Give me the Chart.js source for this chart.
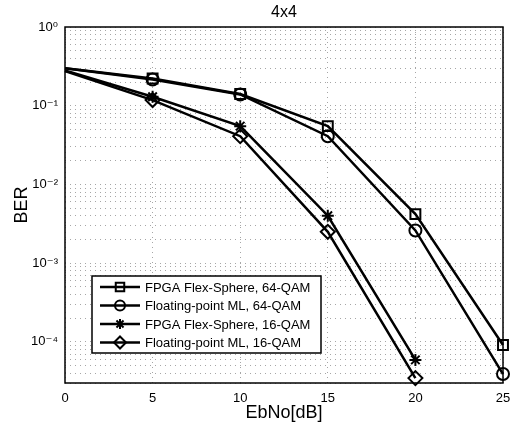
<!DOCTYPE html>
<html>
<head>
<meta charset="utf-8">
<script src="https://cdn.jsdelivr.net/npm/chart.js@4"></script>
<style>
  html, body { margin: 0; padding: 0; background: #fff; }
  #wrap { width: 514px; height: 428px; }
</style>
</head>
<body>
<div id="wrap"><canvas id="myChart" width="514" height="428"></canvas></div>
<script>
// valores
const ebno = [0, 5, 10, 15, 20, 25];
const flex64 = [0.30, 0.222, 0.141, 0.055, 0.0042, 0.000091];
const ml64 = [0.30, 0.215, 0.139, 0.041, 0.0026, 0.000039];
const flex16 = [0.28, 0.130, 0.055, 0.0040, 0.000059, null];
const ml16 = [0.275, 0.118, 0.041, 0.0025, 0.0000346, null];
const seriesNames = [
  'FPGA Flex-Sphere, 64-QAM',
  'Floating-point ML, 64-QAM',
  'FPGA Flex-Sphere, 16-QAM',
  'Floating-point ML, 16-QAM'
];
const xTickValues = [0, 5, 10, 15, 20, 25];
const yDecades = [-4, -3, -2, -1, 0];
const yTickLabels = ['10\u207B\u2074', '10\u207B\u00B3', '10\u207B\u00B2', '10\u207B\u00B9', '10\u2070'];
const chartTitle = '4x4';

const FONT = '"Liberation Sans", Arial, "DejaVu Sans", sans-serif';
const markers = ['rect', 'circle', 'star', 'rectRot'];
const markerSizes = [7, 6, 6, 7];

function toPoints(values) {
  return ebno.map((x, i) => ({ x: x, y: values[i] }));
}

function makeDataset(label, values, k) {
  return {
    label: label,
    data: toPoints(values),
    borderColor: '#000',
    borderWidth: 2.5,
    pointStyle: markers[k],
    pointRadius: values.map((v, i) => (i === 0 ? 0 : markerSizes[k])),
    pointBorderWidth: 2,
    pointBorderColor: '#000',
    pointBackgroundColor: 'rgba(0,0,0,0)',
    tension: 0,
    clip: false,
    spanGaps: false
  };
}

// marcador para la leyenda
function drawMarker(ctx, style, x, y, r) {
  ctx.beginPath();
  if (style === 'rect') {
    const s = r * Math.SQRT1_2;
    ctx.rect(x - s, y - s, 2 * s, 2 * s);
  } else if (style === 'circle') {
    ctx.arc(x, y, r, 0, Math.PI * 2);
  } else if (style === 'rectRot') {
    ctx.moveTo(x, y - r); ctx.lineTo(x + r, y); ctx.lineTo(x, y + r); ctx.lineTo(x - r, y); ctx.closePath();
  } else if (style === 'star') {
    for (let k = 0; k < 4; k++) {
      const ang = k * Math.PI / 4;
      ctx.moveTo(x + Math.cos(ang) * r, y + Math.sin(ang) * r);
      ctx.lineTo(x - Math.cos(ang) * r, y - Math.sin(ang) * r);
    }
  }
  ctx.stroke();
}

const extras = {
  id: 'extras',
  afterDraw(chart) {
    const { ctx, chartArea: a } = chart;
    ctx.save();
    // titulo centrado sobre el area
    ctx.fillStyle = '#000';
    ctx.font = '16px ' + FONT;
    ctx.textAlign = 'center';
    ctx.textBaseline = 'alphabetic';
    ctx.fillText(chartTitle, (a.left + a.right) / 2, 17);

    // marco
    ctx.lineWidth = 1.5;
    ctx.strokeStyle = '#000';
    ctx.strokeRect(a.left, a.top, a.right - a.left, a.bottom - a.top);

    // leyenda
    const bx = a.left + 27, by = a.bottom - 107, bw = 229, bh = 77;
    ctx.fillStyle = '#fff';
    ctx.fillRect(bx, by, bw, bh);
    ctx.lineWidth = 1.5;
    ctx.strokeRect(bx, by, bw, bh);
    ctx.font = '13px ' + FONT;
    ctx.textAlign = 'left';
    ctx.textBaseline = 'middle';
    chart.data.datasets.forEach((ds, k) => {
      const y = by + 11 + k * 18.5;
      ctx.strokeStyle = '#000';
      ctx.lineWidth = 2.5;
      ctx.beginPath();
      ctx.moveTo(bx + 8, y);
      ctx.lineTo(bx + 48, y);
      ctx.stroke();
      ctx.lineWidth = 2;
      drawMarker(ctx, markers[k], bx + 28, y, markerSizes[k] - 1);
      ctx.fillStyle = '#000';
      ctx.fillText(ds.label, bx + 53, y + 1);
    });
    ctx.restore();
  }
};

const ctx = document.getElementById('myChart');

new Chart(ctx, {
  type: 'line',
  data: {
    datasets: [
      makeDataset(seriesNames[0], flex64, 0),
      makeDataset(seriesNames[1], ml64, 1),
      makeDataset(seriesNames[2], flex16, 2),
      makeDataset(seriesNames[3], ml16, 3)
    ]
  },
  options: {
    responsive: false,
    animation: false,
    devicePixelRatio: 1,
    layout: { padding: { left: 0, right: 11, top: 27, bottom: 0 } },
    plugins: {
      legend: { display: false },
      title: { display: false },
      tooltip: { enabled: false }
    },
    scales: {
      x: {
        type: 'linear',
        min: 0,
        max: 25,
        afterBuildTicks: function(scale) {
          scale.ticks = xTickValues.map(v => ({ value: v }));
        },
        afterFit: function(scale) {
          scale.height = 45;
          scale.paddingLeft = 0;
          scale.paddingRight = 0;
        },
        ticks: {
          color: '#000',
          font: { family: FONT, size: 13 },
          padding: 8,
          maxRotation: 0
        },
        grid: { color: '#a6a6a6', lineWidth: 1, drawTicks: false },
        border: { display: false, dash: [1, 4] },
        title: {
          display: true,
          text: 'EbNo[dB]',
          color: '#000',
          font: { family: FONT, size: 18 },
          padding: { top: 0, bottom: 4 }
        }
      },
      y: {
        type: 'logarithmic',
        min: 3e-5,
        max: 1,
        afterBuildTicks: function(scale) {
          const t = [];
          for (let d = -5; d <= 0; d++) {
            for (let m = 1; m <= 9; m++) {
              const v = m * Math.pow(10, d);
              if (v >= 3e-5 * 0.999 && v <= 1.0001) t.push({ value: v });
              if (d === 0) break;
            }
          }
          scale.ticks = t;
        },
        afterFit: function(scale) {
          scale.width = 65;
          scale.paddingTop = 0;
          scale.paddingBottom = 0;
        },
        ticks: {
          color: '#000',
          font: { family: FONT, size: 13 },
          padding: 7,
          autoSkip: false,
          callback: function(value) {
            const e = Math.round(Math.log10(value));
            if (Math.abs(value / Math.pow(10, e) - 1) < 1e-6) {
              const idx = yDecades.indexOf(e);
              return idx >= 0 ? yTickLabels[idx] : '';
            }
            return '';
          }
        },
        grid: { color: '#a6a6a6', lineWidth: 1, drawTicks: false },
        border: { display: false, dash: [1, 4] },
        title: {
          display: true,
          text: 'BER',
          color: '#000',
          font: { family: FONT, size: 18 },
          padding: { top: 11, bottom: 0 }
        }
      }
    }
  },
  plugins: [extras]
});
</script>
</body>
</html>
